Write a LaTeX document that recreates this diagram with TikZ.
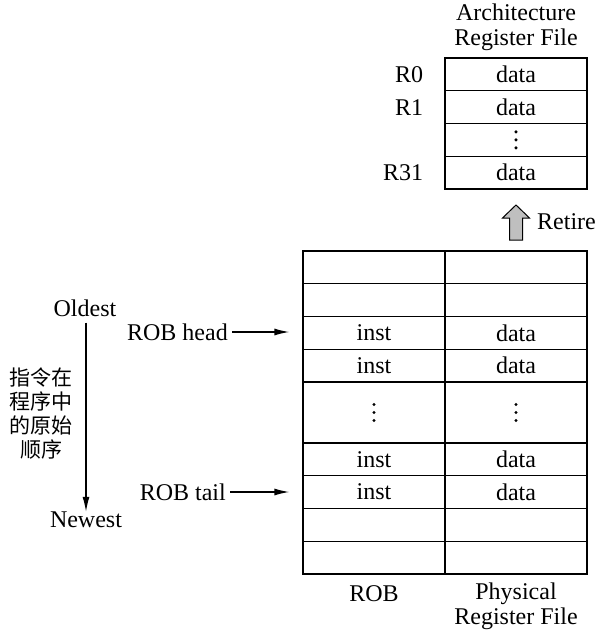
\documentclass[tikz,border=0pt]{standalone}
\usepackage{fontspec}
\setmainfont{Liberation Serif}
\newfontfamily\cjk{Noto Sans CJK SC}
\usetikzlibrary{arrows.meta}
\begin{document}
\begin{tikzpicture}[x=1pt,y=-1pt,
  font=\fontsize{24}{25}\selectfont,
  every node/.style={inner sep=0pt},
  cell/.style={draw, line width=1.3pt, minimum width=142pt, minimum height=32.75pt},
  tallcell/.style={cell, minimum height=61pt},
  arr/.style={-{Latex[length=15pt,width=7pt]}, line width=1.3pt},
  dot/.style={fill=black}]
\useasboundingbox (0,0) rectangle (601,632);

% Architecture register file
\node[align=center] (arftitle) at (516,27) {Architecture\\Register File};
\node[cell] (arf1) at (516,74.375) {data};
\node[cell] (arf2) at (516,107.125) {data};
\node[cell] (arf3) at (516,139.875) {};
\node[cell] (arf4) at (516,172.625) {data};
\foreach \d in {-8,0,8} \fill[dot] ([yshift=\d pt]arf3.center) circle (1.7pt);
\node[anchor=east] (r0) at ([xshift=-21pt]arf1.west) {R0};
\node[anchor=east] (r1) at ([xshift=-21pt]arf2.west) {R1};
\node[anchor=east] (r31) at ([xshift=-21pt]arf4.west) {R31};

% Retire arrow
\draw[line width=1pt, fill=gray!50] (516,205) -- (529.5,218) -- (522.5,218) -- (522.5,240)
  -- (509.5,240) -- (509.5,218) -- (502.5,218) -- cycle;
\node[anchor=west] (retire) at (537,222) {Retire};

% ROB and physical register file
\node[cell] (rob1) at (374,267.375) {};
\node[cell] (rob2) at (374,300.125) {};
\node[cell] (rob3) at (374,332.875) {inst};
\node[cell] (rob4) at (374,365.625) {inst};
\node[tallcell] (rob5) at (374,412.5) {};
\node[cell] (rob6) at (374,459.375) {inst};
\node[cell] (rob7) at (374,492.125) {inst};
\node[cell] (rob8) at (374,524.875) {};
\node[cell] (rob9) at (374,557.625) {};
\node[cell] (prf1) at (516,267.375) {};
\node[cell] (prf2) at (516,300.125) {};
\node[cell] (prf3) at (516,332.875) {data};
\node[cell] (prf4) at (516,365.625) {data};
\node[tallcell] (prf5) at (516,412.5) {};
\node[cell] (prf6) at (516,459.375) {data};
\node[cell] (prf7) at (516,492.125) {data};
\node[cell] (prf8) at (516,524.875) {};
\node[cell] (prf9) at (516,557.625) {};
\foreach \d in {-8,0,8} {
  \fill[dot] ([yshift=\d pt]rob5.center) circle (1.7pt);
  \fill[dot] ([yshift=\d pt]prf5.center) circle (1.7pt);
}
\node (roblabel) at (374,594) {ROB};
\node[align=center] (prflabel) at (516,606) {Physical\\Register File};

% Pointers
\node[anchor=east] (robhead) at (228,332) {ROB head};
\node[anchor=east] (robtail) at (226,492) {ROB tail};
\draw[arr] ([xshift=4pt]robhead.east) -- ([xshift=-13pt]robhead.east -| rob3.west);
\draw[arr] ([xshift=4pt]robtail.east) -- ([xshift=-13pt]robtail.east -| rob7.west);

% Program order
\node (oldest) at (85,308) {Oldest};
\node (newest) at (86,520) {Newest};
\draw[arr, shorten <=6pt] (oldest.south -| newest.north) -- (newest.north);
\node[font=\cjk\fontsize{21}{24}\selectfont, align=center] (order) at (41,414)
  {指令在\\程序中\\的原始\\顺序};
\end{tikzpicture}
\end{document}
